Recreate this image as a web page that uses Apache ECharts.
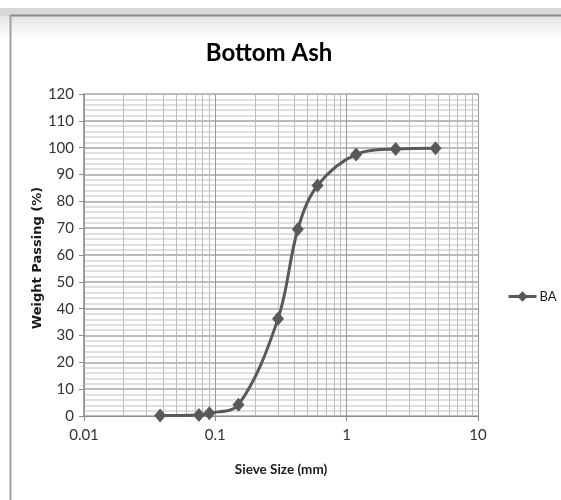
<!DOCTYPE html>
<html>
<head>
<meta charset="utf-8">
<script src="https://cdn.jsdelivr.net/npm/echarts@6/dist/echarts.min.js"></script>
<style>html,body{margin:0;padding:0;background:#fff}#c{width:561px;height:500px}</style>
</head>
<body>
<div id="c"></div>
<script>
var seriesName = 'BA';
var sieveSizes = [0.038, 0.075, 0.09, 0.15, 0.3, 0.425, 0.6, 1.18, 2.36, 4.75];
var passing = [0.2, 0.4, 1.0, 4.2, 36.2, 69.6, 85.9, 97.5, 99.5, 99.8];
var minorX = [0.02,0.03,0.04,0.05,0.06,0.07,0.08,0.09,0.2,0.3,0.4,0.5,0.6,0.7,0.8,0.9,2,3,4,5,6,7,8,9];
var titleText = 'Bottom Ash';
var xTitle = 'Sieve Size (mm)';
var yTitle = 'Weight Passing (%)';

var FONT = 'Lato';
var chart = echarts.init(document.getElementById('c'), null, {renderer:'canvas'});
var pts = sieveSizes.map(function(x,i){return [x, passing[i]];});
chart.setOption({
  animation:false,
  backgroundColor:'#ffffff',
  graphic:[
    {type:'rect', shape:{x:0,y:8,width:561,height:8}, style:{fill:'#d8d8d8'}, z:-10},
    {type:'rect', shape:{x:0,y:16,width:561,height:22}, style:{fill:new echarts.graphic.LinearGradient(0,0,0,1,[{offset:0,color:'#e4e4e4'},{offset:1,color:'#ffffff'}])}, z:-10},
    {type:'rect', shape:{x:0,y:38,width:10,height:462}, style:{fill:'#ffffff'}, z:-9},
    {type:'line', shape:{x1:10,y1:15.5,x2:561,y2:15.5}, style:{stroke:'#8a8a8a',lineWidth:2}, z:-5},
    {type:'line', shape:{x1:10.5,y1:15,x2:10.5,y2:500}, style:{stroke:'#a0a0a0',lineWidth:2}, z:-5},
    {type:'text', x:269, y:53, style:{text:titleText, font:'bold 24px '+FONT, fill:'#000', textAlign:'center', textVerticalAlign:'middle'}},
    {type:'text', x:38, y:258, rotation:Math.PI/2, style:{text:yTitle, font:'bold 13px "DejaVu Sans"', fill:'#1a1a1a', textAlign:'center', textVerticalAlign:'middle'}},
    {type:'text', x:281, y:470, style:{text:xTitle, font:'bold 13.5px '+FONT, fill:'#1a1a1a', textAlign:'center', textVerticalAlign:'middle'}}
  ],
  grid:{left:84, right:83, top:94, bottom:84, containLabel:false},
  legend:{
    show:true, left:502, top:285, orient:'vertical',
    itemWidth:28, itemHeight:13, itemGap:4,
    lineStyle:{width:3, color:'#595959'},
    textStyle:{fontFamily:FONT, fontSize:13, color:'#1a1a1a', padding:[0,0,0,-2]},
    data:[seriesName]
  },
  xAxis:{
    type:'log', logBase:10, min:0.01, max:10,
    axisLine:{show:true, lineStyle:{color:'#8c8c8c', width:1}},
    axisTick:{show:true, length:5, lineStyle:{color:'#8c8c8c'}},
    axisLabel:{fontFamily:FONT, fontSize:15, color:'#333', margin:12,
      formatter:function(v){return String(+v.toPrecision(3));}},
    splitLine:{show:true, lineStyle:{color:'#9a9a9a', width:1}}
  },
  yAxis:{
    type:'value', min:0, max:120, interval:10,
    axisLine:{show:true, lineStyle:{color:'#8c8c8c', width:1.5}},
    axisTick:{show:true, length:5, lineStyle:{color:'#8c8c8c'}},
    axisLabel:{fontFamily:FONT, fontSize:15, color:'#333', margin:10},
    splitLine:{show:true, lineStyle:{color:'#a6a6a6', width:1.5}},
    minorTick:{show:false, splitNumber:5},
    minorSplitLine:{show:true, lineStyle:{color:'#d6d6d6', width:1.5}}
  },
  series:[
    {
      type:'line', name:'grid-minor', data:pts, symbol:'none', silent:true,
      lineStyle:{opacity:0}, z:1, legendHoverLink:false,
      markLine:{silent:true, symbol:['none','none'], animation:false,
        label:{show:false}, lineStyle:{color:'#bdbdbd', width:1, type:'solid'},
        data:minorX.map(function(v){return {xAxis:v};})}
    },
    {
      type:'line', name:seriesName, data:pts, smooth:0.35,
      symbol:'diamond', symbolSize:[12,14],
      itemStyle:{color:'#595959'},
      lineStyle:{color:'#595959', width:3},
      z:5
    }
  ]
});
</script>
</body>
</html>
